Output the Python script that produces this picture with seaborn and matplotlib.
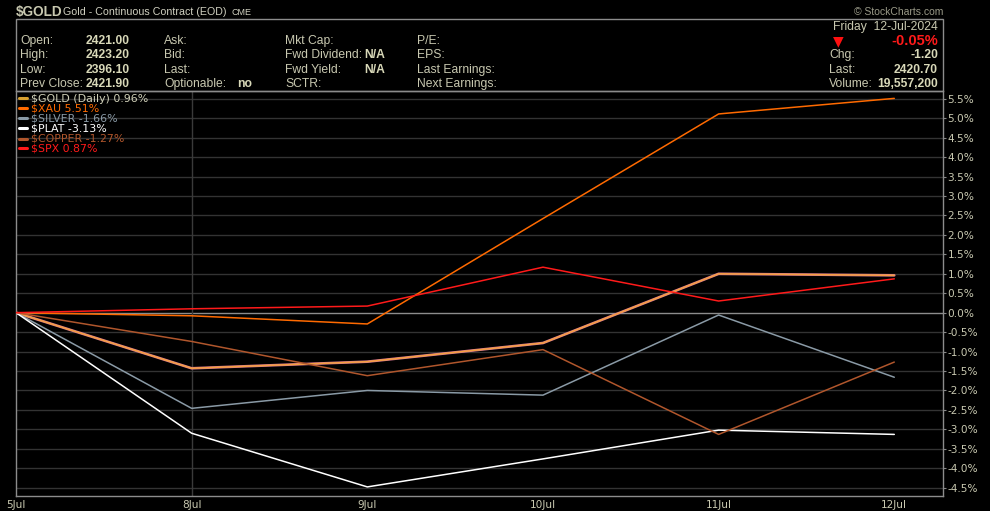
import pandas as pd
import numpy as np
import seaborn as sns
import matplotlib.pyplot as plt
from matplotlib.patches import Rectangle

# data (% change since 5 Jul)
days = ["5Jul", "8Jul", "9Jul", "10Jul", "11Jul", "12Jul"]
gold = [0.0, -1.43, -1.26, -0.78, 1.00, 0.96]
xau = [0.0, -0.08, -0.29, 2.42, 5.11, 5.51]
silver = [0.0, -2.46, -2.00, -2.12, -0.06, -1.66]
plat = [0.0, -3.10, -4.48, -3.76, -3.02, -3.13]
copper = [0.0, -0.74, -1.62, -0.95, -3.13, -1.27]
spx = [0.0, 0.10, 0.17, 1.17, 0.30, 0.87]

symbols = ["$GOLD", "$XAU", "$SILVER", "$PLAT", "$COPPER", "$SPX"]
legend_labels = ["$GOLD (Daily) 0.96%", "$XAU 5.51%", "$SILVER -1.66%",
                 "$PLAT -3.13%", "$COPPER -1.27%", "$SPX 0.87%"]
yticks = np.arange(-4.5, 5.51, 0.5)

colors = {"$GOLD": "#F5A040", "$XAU": "#FF6A00", "$SILVER": "#8A9AA6",
          "$PLAT": "#FFFFFF", "$COPPER": "#B0562C", "$SPX": "#FF1A1A"}
text_col = {"$GOLD": "#D0D0B8", "$XAU": "#FF6A00", "$SILVER": "#8A9AA6",
            "$PLAT": "#FFFFFF", "$COPPER": "#B0562C", "$SPX": "#FF1A1A"}
dash_col = {"$GOLD": "#D8A030"}

series = [gold, xau, silver, plat, copper, spx]
df = pd.concat([pd.DataFrame({"day": range(len(days)), "pct": v, "symbol": s})
                for s, v in zip(symbols, series)], ignore_index=True)

sns.set_style("dark")
plt.rcParams['font.family'] = ['Liberation Sans', 'DejaVu Sans']

fig = plt.figure(figsize=(9.9, 5.11), dpi=100, facecolor="black")
W, H = 990, 511
ax = fig.add_axes([16 / W, 1 - 495.7 / H, (943.3 - 16) / W, (495.7 - 91) / H])
ax.set_facecolor("black")

# grid
for yv in yticks:
    ax.axhline(yv, color="#8c8c8c" if abs(yv) < 1e-9 else "#333333", lw=1, zorder=1)
ax.axvline(1, color="#3a3a3a", lw=1, zorder=1)

# gold has a pinkish line under it
sns.lineplot(data=df[df.symbol == "$GOLD"], x="day", y="pct", color="#D87890",
             lw=1.9, ax=ax, legend=False, zorder=2)
sns.lineplot(data=df, x="day", y="pct", hue="symbol", palette=colors,
             hue_order=symbols, lw=1.1, ax=ax, legend=False, zorder=3)

ax.set_xlim(0, 5.279)
ax.set_ylim(-4.706, 5.70)
ax.set_xticks(range(len(days)))
ax.set_xticklabels(days)
ax.set_yticks(yticks)
ax.set_yticklabels([f"{v:.1f}%" for v in yticks])
ax.yaxis.tick_right()
ax.tick_params(axis="both", colors="#888888", labelcolor="#C8C8B0",
               labelsize=7.6, length=2.5, width=0.8, direction="out", pad=0.5)
for t in ax.get_xticklabels() + ax.get_yticklabels():
    t.set_family("DejaVu Sans")
ax.set_xlabel("")
ax.set_ylabel("")
ax.grid(False)
for sp in ax.spines.values():
    sp.set_visible(True)
    sp.set_color("#8c8c8c")
    sp.set_linewidth(1)

# legend, top-left inside the plot
for i, (s, lab) in enumerate(zip(symbols, legend_labels)):
    yy = 98.5 + i * 10
    fig.add_artist(plt.Line2D([19 / W, 27 / W], [1 - yy / H] * 2,
                              color=dash_col.get(s, colors[s]), lw=2.2))
    fig.text(31 / W, 1 - yy / H, lab, color=text_col[s], fontsize=7.9,
             family="DejaVu Sans", va="center", ha="left")

# header
fig.text(16 / W, 1 - 12 / H, "$GOLD", color="#C8C8B0", fontsize=9.8,
         weight="bold", va="center")
fig.text(63 / W, 1 - 12 / H, "Gold - Continuous Contract (EOD)", color="#D0D0C0",
         fontsize=7.7, va="center")
fig.text(231 / W, 1 - 12.5 / H, "CME", color="#D0D0C0", fontsize=6.5, va="center")
fig.text(943 / W, 1 - 12 / H, "\u00a9 StockCharts.com", color="#9a9a88",
         fontsize=7.5, va="center", ha="right")

fig.add_artist(Rectangle((16 / W, 1 - 91 / H), (943.3 - 16) / W, 72 / H,
                         transform=fig.transFigure, fill=False,
                         edgecolor="#8c8c8c", lw=1))

lab_c = "#C8C8B0"
val_c = "#D8D8B8"
rows = [41, 55, 70, 84]
fs = 8.7
cols = [
    (20, ["Open:", "High:", "Low:", "Prev Close:"]),
    (164, ["Ask:", "Bid:", "Last:", "Optionable:"]),
    (285, ["Mkt Cap:", "Fwd Dividend:", "Fwd Yield:", "SCTR:"]),
    (417, ["P/E:", "EPS:", "Last Earnings:", "Next Earnings:"]),
]
for x0, labs in cols:
    for yy, t in zip(rows, labs):
        fig.text(x0 / W, 1 - yy / H, t, color=lab_c, fontsize=fs, va="center")
for yy, t in zip(rows, ["2421.00", "2423.20", "2396.10", "2421.90"]):
    fig.text(86 / W, 1 - yy / H, t, color=val_c, fontsize=fs, weight="bold", va="center")
fig.text(237 / W, 1 - 84 / H, "no", color=val_c, fontsize=fs, weight="bold", va="center")
fig.text(364 / W, 1 - 55 / H, "N/A", color=val_c, fontsize=fs, weight="bold", va="center")
fig.text(364 / W, 1 - 70 / H, "N/A", color=val_c, fontsize=fs, weight="bold", va="center")

fig.text(938 / W, 1 - 27 / H, "Friday  12-Jul-2024", color=lab_c, fontsize=fs,
         va="center", ha="right")
fig.text(838 / W, 1 - 41 / H, "\u25BC", color="#FF1010", fontsize=10,
         family="DejaVu Sans", va="center", ha="center")
fig.text(938 / W, 1 - 41 / H, "-0.05%", color="#FF1A1A", fontsize=10.5,
         weight="bold", va="center", ha="right")
for yy, l, v in zip(rows[1:], ["Chg:", "Last:", "Volume:"],
                    ["-1.20", "2420.70", "19,557,200"]):
    fig.text(829 / W, 1 - yy / H, l, color=lab_c, fontsize=fs, va="center")
    fig.text(938 / W, 1 - yy / H, v, color=val_c, fontsize=fs, weight="bold",
             va="center", ha="right")

fig.savefig("out.png", dpi=100, facecolor="black")
